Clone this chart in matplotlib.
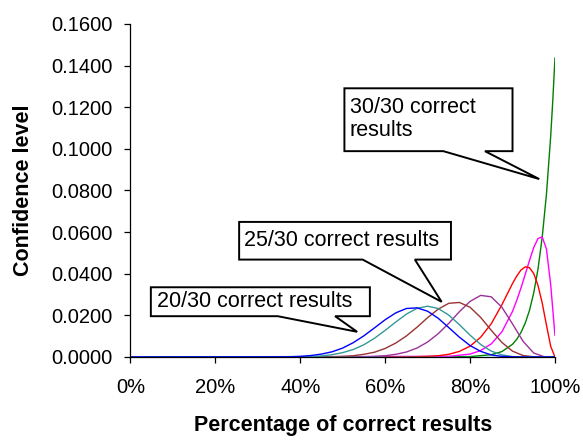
import matplotlib
matplotlib.use("Agg")
import matplotlib.pyplot as plt
from matplotlib.patches import Polygon
from matplotlib.ticker import FuncFormatter, MultipleLocator

plt.rcParams["font.family"] = ["Liberation Sans", "DejaVu Sans"]

# Confidence level vs. percentage of correct results, one curve per score.
x_20 = [0, 37.5, 40, 42.5, 45, 47.5, 50, 52.5, 55, 57.5, 60, 62.5, 65, 67.5, 70,
        72.5, 75, 77.5, 80, 82.5, 85, 87.5, 90, 92.5, 100]
y_20 = [0, 0.0001, 0.0003, 0.0007, 0.0014, 0.0025, 0.0043, 0.0069, 0.0102, 0.0140,
        0.0179, 0.0212, 0.0233, 0.0236, 0.0220, 0.0186, 0.0141, 0.0095, 0.0055,
        0.0027, 0.0010, 0.0003, 0.0001, 0, 0]

x_21 = [0, 42.5, 45, 47.5, 50, 52.5, 55, 57.5, 60, 62.5, 65, 67.5, 70, 72.5, 75,
        77.5, 80, 82.5, 85, 87.5, 90, 92.5, 100]
y_21 = [0, 0.0002, 0.0005, 0.0011, 0.0021, 0.0036, 0.0059, 0.0090, 0.0128, 0.0168,
        0.0206, 0.0234, 0.0244, 0.0233, 0.0201, 0.0155, 0.0105, 0.0060, 0.0028,
        0.0010, 0.0002, 0, 0]

x_23 = [0, 47.5, 50, 52.5, 55, 57.5, 60, 62.5, 65, 67.5, 70, 72.5, 75, 77.5, 80,
        82.5, 85, 87.5, 90, 92.5, 95, 97.5, 100]
y_23 = [0, 0.0001, 0.0003, 0.0006, 0.0013, 0.0023, 0.0041, 0.0067, 0.0101, 0.0143,
        0.0189, 0.0230, 0.0258, 0.0262, 0.0239, 0.0190, 0.0128, 0.0070, 0.0028,
        0.0007, 0.0001, 0, 0]

x_25 = [0, 55, 57.5, 60, 62.5, 65, 67.5, 70, 72.5, 75, 77.5, 80, 82.5, 85, 87.5,
        90, 92.5, 95, 97.5, 100]
y_25 = [0, 0.0001, 0.0003, 0.0006, 0.0013, 0.0024, 0.0043, 0.0072, 0.0112, 0.0162,
        0.0218, 0.0267, 0.0296, 0.0289, 0.0239, 0.0159, 0.0075, 0.0019, 0.0001, 0]

x_28 = [0, 65, 70, 72.5, 75, 77.5, 80, 82.5, 85, 87.5, 90, 91, 92, 93, 94, 95, 96,
        97, 98, 99, 100]
y_28 = [0, 0, 0.0003, 0.0006, 0.0013, 0.0027, 0.0052, 0.0095, 0.0160, 0.0251,
        0.0353, 0.0389, 0.0418, 0.0433, 0.0429, 0.0401, 0.0344, 0.0259, 0.0153,
        0.0051, 0]

x_29 = [0, 75, 80, 82.5, 85, 87.5, 90, 91, 92, 93, 94, 95, 96, 97, 98, 99, 100]
y_29 = [0, 0.0003, 0.0014, 0.0031, 0.0063, 0.0121, 0.0219, 0.0272, 0.0332, 0.0397,
        0.0464, 0.0526, 0.0569, 0.0577, 0.0518, 0.0347, 0.0104]

x_30 = [0, 80, 85, 87.5, 90, 91, 92, 93, 94, 95, 96, 97, 98, 99, 99.5, 100]
y_30 = [0, 0.0002, 0.0011, 0.0026, 0.0061, 0.0085, 0.0118, 0.0163, 0.0224, 0.0308,
        0.0422, 0.0576, 0.0783, 0.1062, 0.1236, 0.1436]

x_flat = [0, 100]
y_flat = [0, 0]

# (x, y, color) in drawing order, last one on top
series = [
    (x_30, y_30, "#008000"),
    (x_29, y_29, "#FF00FF"),
    (x_28, y_28, "#FF0000"),
    (x_25, y_25, "#993399"),
    (x_23, y_23, "#993333"),
    (x_flat, y_flat, "#00FFFF"),
    (x_21, y_21, "#339999"),
    (x_20, y_20, "#0000FF"),
]

# callouts: box (x0, x1, y0, y1), wedge base (b0, b1), tip, text
callouts = [
    dict(box=(4.8, 56.4, 0.0196, 0.0335), base=(34.7, 48.2), tip=(53.4, 0.0121),
         text="20/30 correct results", tx=6.2, ty=0.0265),
    dict(box=(25.6, 75.5, 0.0468, 0.0649), base=(54.7, 67.0), tip=(73.3, 0.0265),
         text="25/30 correct results", tx=26.8, ty=0.0559),
    dict(box=(50.4, 90.0, 0.0989, 0.1291), base=(73.7, 83.5), tip=(96.3, 0.0855),
         text="30/30 correct\nresults", tx=51.7, ty=0.1144),
]

fig = plt.figure(figsize=(5.83, 4.41), dpi=100)
ax = fig.add_axes([0.2238, 0.1905, 0.7281, 0.7551])

for xs, ys, color in series:
    ax.plot(xs, ys, color=color, linewidth=1.0, solid_joinstyle="miter")

for c in callouts:
    x0, x1, y0, y1 = c["box"]
    b0, b1 = c["base"]
    tx, ty = c["tip"]
    verts = [(x0, y1), (x1, y1), (x1, y0), (b1, y0), (tx, ty), (b0, y0), (x0, y0)]
    ax.add_patch(Polygon(verts, closed=True, facecolor="white", edgecolor="black",
                         linewidth=1.4, joinstyle="miter", zorder=5))
    ax.text(c["tx"], c["ty"], c["text"], ha="left", va="center", fontsize=15.5,
            linespacing=1.1, zorder=6)

ax.set_xlim(0, 100)
ax.set_ylim(0, 0.16)
ax.xaxis.set_major_locator(MultipleLocator(20))
ax.yaxis.set_major_locator(MultipleLocator(0.02))
ax.xaxis.set_major_formatter(FuncFormatter(lambda v, _: f"{v:.0f}%"))
ax.yaxis.set_major_formatter(FuncFormatter(lambda v, _: f"{v:.4f}"))
for side in ("top", "right"):
    ax.spines[side].set_visible(False)
for side in ("left", "bottom"):
    ax.spines[side].set_linewidth(0.9)
ax.tick_params(axis="x", direction="out", length=4, width=0.9, pad=11, labelsize=14.5)
ax.tick_params(axis="y", direction="out", length=4, width=0.9, pad=9, labelsize=14.5)

ax.set_xlabel("Percentage of correct results", fontsize=15.5, fontweight="bold", labelpad=13)
ax.set_ylabel("Confidence level", fontsize=15.5, fontweight="bold", labelpad=12)

fig.savefig("out.png", dpi=100)
